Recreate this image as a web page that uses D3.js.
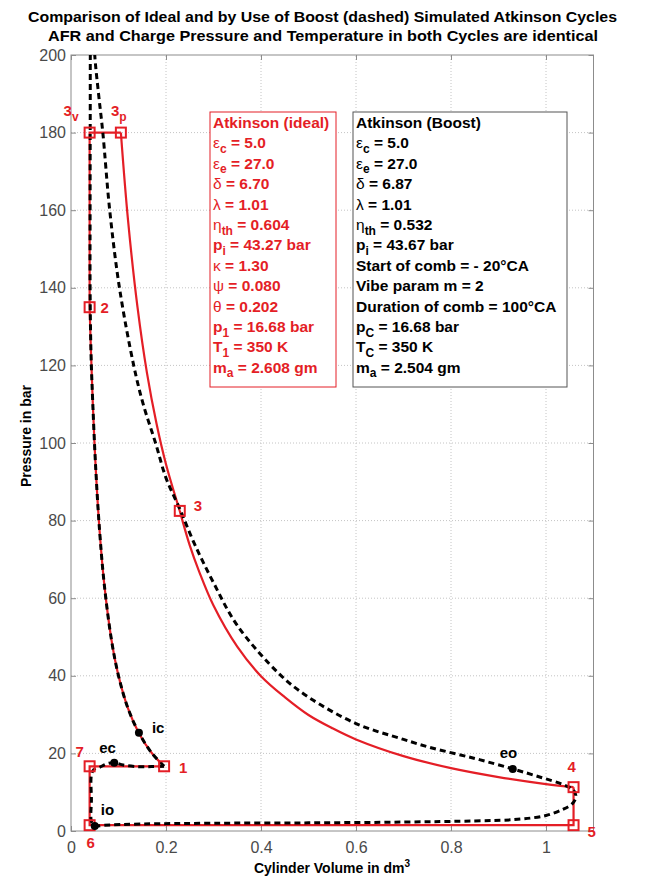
<!DOCTYPE html>
<meta charset="utf-8">
<style>
body { margin: 0; background: #fff; }
svg { font-family: "Liberation Sans", Arial, sans-serif; }
.grid line { stroke: #c4c4c4; stroke-dasharray: 1,2; }
.axis text { font-size: 16px; fill: #4a4a4a; }
.axis line { stroke: #8c8c8c; }
.lbl { font-size: 15px; font-weight: bold; }
</style>
<body>
<svg width="645" height="880"></svg>
<script src="https://d3js.org/d3.v7.min.js"></script>
<script>

var xTicks = [0, 0.2, 0.4, 0.6, 0.8, 1];
var yTicks = [0, 20, 40, 60, 80, 100, 120, 140, 160, 180, 200];

// ideal cycle (red) : volume in dm3, pressure in bar
var compV = [0.196, 0.17, 0.143, 0.12, 0.1, 0.085, 0.07, 0.06, 0.052, 0.046, 0.042, 0.0392];
var compP = [16.68, 20.1, 25.2, 31.6, 40.0, 49.4, 63.6, 77.7, 93.6, 109.8, 123.6, 135];
var isoV = [0.105, 0.12, 0.14, 0.16, 0.18, 0.2, 0.229];
var isoP = [180, 157.5, 135, 118, 105, 94.5, 82.5];
var expV = [0.229, 0.25, 0.27, 0.3, 0.35, 0.4, 0.45, 0.5, 0.55, 0.6, 0.7, 0.8, 0.9, 1.0, 1.058];
var expP = [82.5, 73.6, 66.8, 58.1, 47.5, 39.9, 34.5, 29.9, 26.5, 23.6, 19.3, 16.2, 13.9, 12.1, 11.3];
var topV = [0.0392, 0.0392, 0.105];
var topP = [135, 180, 180];
var lowV = [1.058, 1.058, 0.0392, 0.0392, 0.196];
var lowP = [11.3, 1.5, 1.5, 16.68, 16.68];

// boost cycle (dashed)
var boostV = [0.196, 0.17, 0.143, 0.12, 0.1, 0.085, 0.07, 0.06, 0.052, 0.046, 0.042, 0.0402, 0.0402, 0.0405, 0.041, 0.043,
  0.047, 0.05, 0.058, 0.067, 0.0815, 0.102, 0.132, 0.152, 0.178, 0.2, 0.229, 0.26, 0.3, 0.35, 0.44, 0.5, 0.6, 0.7, 0.76,
  0.85, 0.93, 0.99, 1.035, 1.058, 1.063, 1.055, 1.036, 1.0, 0.94, 0.85, 0.7, 0.5, 0.3, 0.15, 0.07, 0.05, 0.043, 0.043,
  0.043, 0.048, 0.06, 0.075, 0.091, 0.11, 0.14, 0.17, 0.196];
var boostP = [16.7, 20.1, 25.3, 31.6, 40.0, 49.4, 63.6, 77.7, 93.6, 109.8, 123.6, 140, 160, 185, 205, 215,
  212, 200, 190, 180, 160, 140, 120, 110, 100, 91, 83, 74, 64, 53, 40.3, 34.5, 27.7, 23.6, 21.4,
  18.7, 16.0, 13.8, 12.0, 10.5, 8.8, 7.0, 5.6, 4.0, 3.0, 2.6, 2.3, 2.1, 2.0, 1.8, 1.5, 1.3, 2.5, 8,
  14.5, 15.8, 16.4, 17.3, 17.6, 17.0, 16.6, 16.6, 16.7];

var pointNames = ["1", "2", "3v", "3p", "3", "4", "5", "6", "7"];
var pointV = [0.196, 0.0392, 0.0392, 0.105, 0.229, 1.058, 1.058, 0.0392, 0.0392];
var pointP = [16.68, 135, 180, 180, 82.5, 11.3, 1.5, 1.5, 16.68];

var eventNames = ["ic", "ec", "eo", "io"];
var eventV = [0.143, 0.091, 0.93, 0.05];
var eventP = [25.3, 17.6, 16.0, 1.3];

var idealLines = ["Atkinson (ideal)", "ε_{c} = 5.0", "ε_{e} = 27.0", "δ = 6.70", "λ = 1.01", "η_{th} = 0.604",
  "p_{i} = 43.27 bar", "κ = 1.30", "ψ = 0.080", "θ = 0.202", "p_{1} = 16.68 bar", "T_{1} = 350 K", "m_{a} = 2.608 gm"];
var boostLines = ["Atkinson (Boost)", "ε_{c} = 5.0", "ε_{e} = 27.0", "δ = 6.87", "λ = 1.01", "η_{th} = 0.532",
  "p_{i} = 43.67 bar", "Start of comb = - 20°CA", "Vibe param m = 2", "Duration of comb = 100°CA",
  "p_{C} = 16.68 bar", "T_{C} = 350 K", "m_{a} = 2.504 gm"];

var titleLines = ["Comparison of Ideal and by Use of Boost (dashed) Simulated Atkinson Cycles",
  "AFR and Charge Pressure and Temperature in both Cycles are identical"];

var red = "#e41e26";
var margin = {top: 55, right: 51.5, bottom: 49, left: 71};
var width = 645, height = 880;

var svg = d3.select("svg");

var x = d3.scaleLinear().domain([0, 1.1]).range([margin.left, width - margin.right]);
var y = d3.scaleLinear().domain([0, 200]).range([height - margin.bottom, margin.top]);

svg.append("clipPath").attr("id", "clip")
  .append("rect")
  .attr("x", x(0)).attr("y", y(200))
  .attr("width", x(1.1) - x(0)).attr("height", y(0) - y(200));

// grid
var grid = svg.append("g").attr("class", "grid");
grid.selectAll(".gx").data(xTicks.slice(1)).enter().append("line")
  .attr("x1", d => x(d)).attr("x2", d => x(d))
  .attr("y1", y(0)).attr("y2", y(200));
grid.selectAll(".gy").data(yTicks.slice(1, -1)).enter().append("line")
  .attr("x1", x(0)).attr("x2", x(1.1))
  .attr("y1", d => y(d)).attr("y2", d => y(d));

// axes (MATLAB style, ticks inside)
var fmt = d => String(d);
svg.append("g").attr("class", "axis")
  .attr("transform", "translate(0," + y(0) + ")")
  .call(d3.axisBottom(x).tickValues(xTicks).tickSize(-5).tickPadding(11).tickFormat(fmt))
  .call(g => g.select(".domain").remove());
svg.append("g").attr("class", "axis")
  .attr("transform", "translate(0," + y(200) + ")")
  .call(d3.axisTop(x).tickValues(xTicks).tickSize(-5).tickFormat(""))
  .call(g => g.select(".domain").remove());
svg.append("g").attr("class", "axis")
  .attr("transform", "translate(" + x(0) + ",0)")
  .call(d3.axisLeft(y).tickValues(yTicks).tickSize(-5).tickPadding(5).tickFormat(fmt))
  .call(g => g.select(".domain").remove());
svg.append("g").attr("class", "axis")
  .attr("transform", "translate(" + x(1.1) + ",0)")
  .call(d3.axisRight(y).tickValues(yTicks).tickSize(-5).tickFormat(""))
  .call(g => g.select(".domain").remove());

svg.append("rect")
  .attr("x", x(0)).attr("y", y(200))
  .attr("width", x(1.1) - x(0)).attr("height", y(0) - y(200))
  .attr("fill", "none").attr("stroke", "#8c8c8c");

function pts(vs, ps) { return vs.map((v, i) => [v, ps[i]]); }

var smooth = d3.line().x(d => x(d[0])).y(d => y(d[1])).curve(d3.curveCatmullRom.alpha(0.5));
var straight = d3.line().x(d => x(d[0])).y(d => y(d[1]));

var plot = svg.append("g").attr("clip-path", "url(#clip)");

[[compV, compP, smooth], [isoV, isoP, smooth], [expV, expP, smooth], [topV, topP, straight], [lowV, lowP, straight]]
  .forEach(function(s) {
    plot.append("path")
      .attr("d", s[2](pts(s[0], s[1])))
      .attr("fill", "none").attr("stroke", red).attr("stroke-width", 2.2);
  });

plot.append("path")
  .attr("d", smooth(pts(boostV, boostP)))
  .attr("fill", "none").attr("stroke", "#000")
  .attr("stroke-width", 3).attr("stroke-dasharray", "6,4");

// markers
svg.selectAll(".sq").data(pointNames).enter().append("rect")
  .attr("x", (d, i) => x(pointV[i]) - 5).attr("y", (d, i) => y(pointP[i]) - 5)
  .attr("width", 10).attr("height", 10)
  .attr("fill", "none").attr("stroke", red).attr("stroke-width", 2);

svg.selectAll(".dot").data(eventNames).enter().append("circle")
  .attr("cx", (d, i) => x(eventV[i])).attr("cy", (d, i) => y(eventP[i]))
  .attr("r", 4).attr("fill", "#000");

// point labels
var offs = {"1": [15, 7], "2": [11, 6], "3v": [-26, -17], "3p": [-10, -17], "3": [14, 0],
  "4": [-6, -15], "5": [14, 12], "6": [-3, 23], "7": [-14, -9],
  "ic": [13, 0], "ec": [-15, -10], "eo": [-13, -11], "io": [6, -11]};

pointNames.forEach(function(n, i) {
  var t = svg.append("text").attr("class", "lbl").attr("fill", red)
    .attr("x", x(pointV[i]) + offs[n][0]).attr("y", y(pointP[i]) + offs[n][1]);
  t.append("tspan").text(n[0]);
  if (n.length > 1) t.append("tspan").attr("dy", 5).attr("font-size", 12).text(n.slice(1));
});
eventNames.forEach(function(n, i) {
  svg.append("text").attr("class", "lbl").attr("fill", "#000")
    .attr("x", x(eventV[i]) + offs[n][0]).attr("y", y(eventP[i]) + offs[n][1])
    .text(n);
});

// parameter boxes
function richText(sel, str) {
  var parts = str.split(/(_\{[^}]*\})/);
  var shifted = false;
  parts.forEach(function(p) {
    if (!p) return;
    if (p[0] === "_") {
      sel.append("tspan").attr("dy", 4.5).attr("font-size", 12).text(p.slice(2, -1));
      shifted = true;
      return;
    }
    p.split(/([α-ω]+)/).forEach(function(q) {
      if (!q) return;
      var ts = sel.append("tspan").text(q);
      if (/[α-ω]/.test(q)) ts.attr("font-weight", "normal");
      if (shifted) { ts.attr("dy", -4.5); shifted = false; }
    });
  });
}

function box(lines, x0, x1, color, border) {
  svg.append("rect")
    .attr("x", x0).attr("y", 112).attr("width", x1 - x0).attr("height", 275)
    .attr("fill", "#fff").attr("stroke", border).attr("stroke-width", 1);
  lines.forEach(function(l, i) {
    var t = svg.append("text")
      .attr("x", x0 + 3).attr("y", 128 + i * 20.4)
      .attr("font-size", 15.5).attr("font-weight", "bold").attr("fill", color);
    richText(t, l);
  });
}
box(idealLines, 210, 336, red, red);
box(boostLines, 353, 567, "#000", "#555");

// titles
svg.append("text").attr("x", 322.5).attr("y", 22).attr("text-anchor", "middle")
  .attr("font-size", 15).attr("font-weight", "bold")
  .attr("textLength", 589).attr("lengthAdjust", "spacingAndGlyphs").text(titleLines[0]);
svg.append("text").attr("x", 323).attr("y", 41).attr("text-anchor", "middle")
  .attr("font-size", 15).attr("font-weight", "bold")
  .attr("textLength", 550).attr("lengthAdjust", "spacingAndGlyphs").text(titleLines[1]);

var xl = svg.append("text").attr("x", 332).attr("y", 873).attr("text-anchor", "middle")
  .attr("font-size", 14).attr("font-weight", "bold");
xl.append("tspan").text("Cylinder Volume in dm");
xl.append("tspan").attr("dy", -6).attr("font-size", 10).text("3");

svg.append("text").attr("transform", "translate(31,436) rotate(-90)")
  .attr("text-anchor", "middle").attr("font-size", 14).attr("font-weight", "bold")
  .text("Pressure in bar");

</script>
</body>
